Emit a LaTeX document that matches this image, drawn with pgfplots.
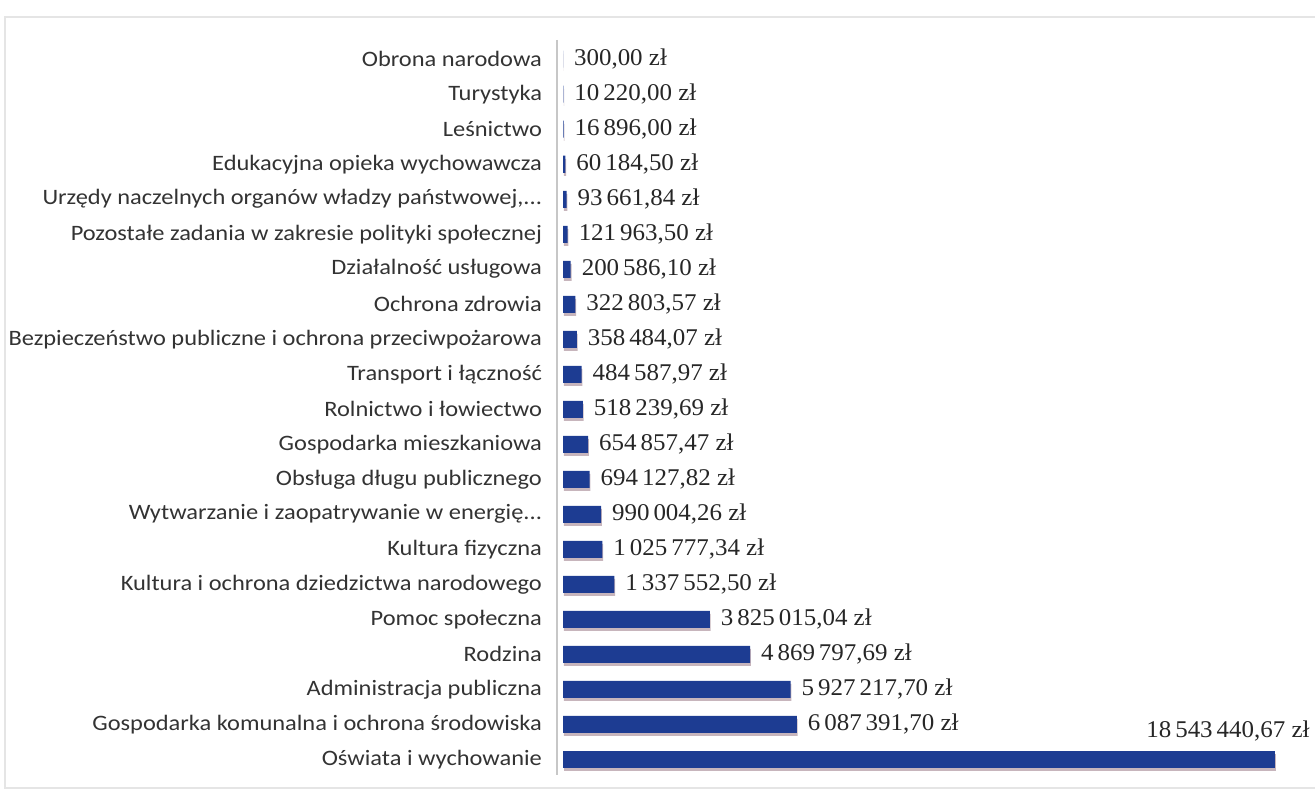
\documentclass[border=0pt]{standalone}
\usepackage{fontspec}
\setmainfont{Carlito}[FakeStretch=1.11]
\newfontfamily\valfont{Liberation Serif}[FakeStretch=1.04]
\usepackage{pgfplots}
\usepackage{pgfplotstable}
\pgfplotsset{compat=1.18}
\usetikzlibrary{shadows}
\definecolor{barblue}{HTML}{1D3C92}
\definecolor{shadowc}{RGB}{175,150,160}

\pgfplotstableread[col sep=semicolon]{
y;x;lab;name
0;300.00;300,00 zł;Obrona narodowa
1;10220.00;10\,220,00 zł;Turystyka
2;16896.00;16\,896,00 zł;Leśnictwo
3;60184.50;60\,184,50 zł;Edukacyjna opieka wychowawcza
4;93661.84;93\,661,84 zł;Urzędy naczelnych organów władzy państwowej,...
5;121963.50;121\,963,50 zł;Pozostałe zadania w zakresie polityki społecznej
6;200586.10;200\,586,10 zł;Działalność usługowa
7;322803.57;322\,803,57 zł;Ochrona zdrowia
8;358484.07;358\,484,07 zł;Bezpieczeństwo publiczne i ochrona przeciwpożarowa
9;484587.97;484\,587,97 zł;Transport i łączność
10;518239.69;518\,239,69 zł;Rolnictwo i łowiectwo
11;654857.47;654\,857,47 zł;Gospodarka mieszkaniowa
12;694127.82;694\,127,82 zł;Obsługa długu publicznego
13;990004.26;990\,004,26 zł;Wytwarzanie i zaopatrywanie w energię...
14;1025777.34;1\,025\,777,34 zł;Kultura fizyczna
15;1337552.50;1\,337\,552,50 zł;Kultura i ochrona dziedzictwa narodowego
16;3825015.04;3\,825\,015,04 zł;Pomoc społeczna
17;4869797.69;4\,869\,797,69 zł;Rodzina
18;5927217.70;5\,927\,217,70 zł;Administracja publiczna
19;6087391.70;6\,087\,391,70 zł;Gospodarka komunalna i ochrona środowiska
}\datamain
\pgfplotstableread[col sep=semicolon]{
y;x;lab;name
20;18543440.67;18\,543\,440,67 zł;Oświata i wychowanie
}\datalast
\pgfplotstableread[col sep=semicolon]{
name
Obrona narodowa
Turystyka
Leśnictwo
Edukacyjna opieka wychowawcza
Urzędy naczelnych organów władzy państwowej,...
Pozostałe zadania w zakresie polityki społecznej
Działalność usługowa
Ochrona zdrowia
Bezpieczeństwo publiczne i ochrona przeciwpożarowa
Transport i łączność
Rolnictwo i łowiectwo
Gospodarka mieszkaniowa
Obsługa długu publicznego
Wytwarzanie i zaopatrywanie w energię...
Kultura fizyczna
Kultura i ochrona dziedzictwa narodowego
Pomoc społeczna
Rodzina
Administracja publiczna
Gospodarka komunalna i ochrona środowiska
Oświata i wychowanie
}\datanames

\begin{document}
\begin{tikzpicture}
\useasboundingbox (0,0) rectangle (657.5pt,396pt);
\draw[black!10, line width=0.6pt] (660pt,387.5pt) -- (2.5pt,387.5pt) -- (2.5pt,2pt) -- (660pt,2pt);
\begin{axis}[
  at={(278.5pt,8.5pt)}, anchor=south west,
  scale only axis,
  width=376.5pt, height=367.5pt,
  xmin=-156250, xmax=19453000,
  ymin=-0.55, ymax=20.45,
  y dir=reverse,
  axis x line=none,
  axis y line*=left,
  y axis line style={black!22, line width=0.7pt},
  ytick={0,...,20},
  yticklabels from table={\datanames}{name},
  major tick length=0pt,
  yticklabel style={font=\fontsize{11}{13}\selectfont, text=black!80, xshift=-4pt},
  clip=false,
  xbar, bar shift=0pt, bar width=8.5pt,
  point meta=explicit symbolic,
]
\addplot[fill=barblue, draw=none,
  drop shadow={shadow xshift=0.4pt, shadow yshift=-1.6pt, fill=shadowc, opacity=0.7},
  nodes near coords,
  nodes near coords style={font=\valfont\fontsize{12}{14}\selectfont, text=black!85, anchor=west, xshift=2pt}]
  table[x=x, y=y, meta=lab] {\datamain};
\addplot[fill=barblue, draw=none,
  drop shadow={shadow xshift=0.4pt, shadow yshift=-1.6pt, fill=shadowc, opacity=0.7}]
  table[x=x, y=y, meta=lab] {\datalast};
\node[anchor=east, font=\valfont\fontsize{12}{14}\selectfont, text=black!85, inner sep=0pt, yshift=-3.5pt]
  at (axis cs:19453000,19) {18\,543\,440,67 zł};
\end{axis}
\end{tikzpicture}
\end{document}
